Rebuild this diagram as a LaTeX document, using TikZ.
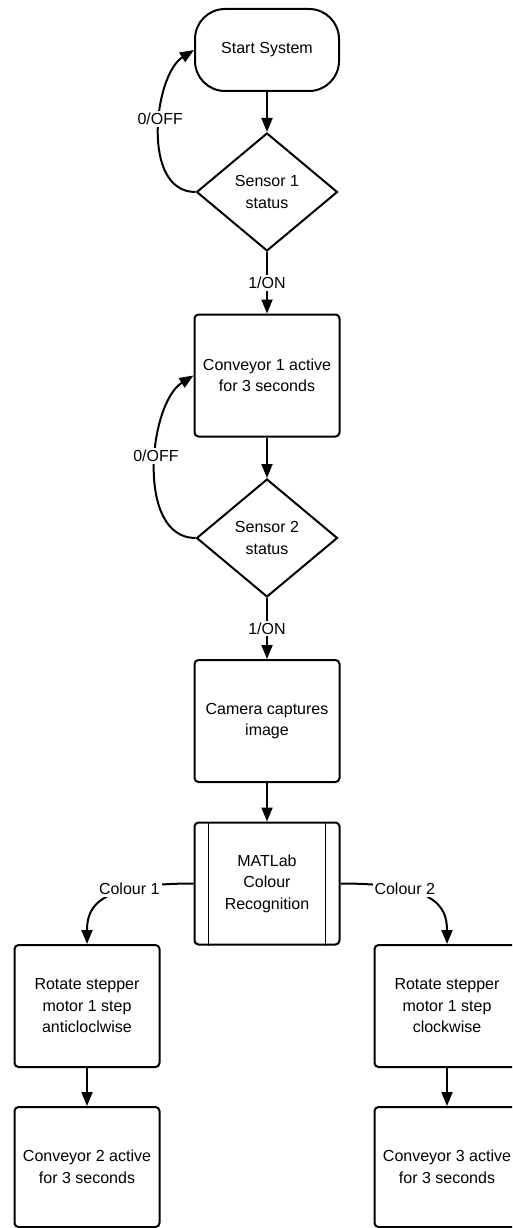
\documentclass[tikz,border=0pt]{standalone}
\usepackage{fontspec}
\setmainfont{Liberation Sans}
\usetikzlibrary{shapes.geometric,arrows.meta,calc}
\begin{document}
\begin{tikzpicture}[x=1pt,y=-1pt,
  every node/.style={font={\fontsize{16}{21.5}\selectfont}},
  terminal/.style={draw,line width=2pt,rounded corners=30pt,minimum width=144pt,minimum height=82pt,inner sep=0pt},
  proc/.style={draw,line width=2pt,rounded corners=4pt,minimum width=145pt,minimum height=122pt,align=center,inner sep=0pt},
  decision/.style={draw,diamond,line width=2pt,minimum width=141pt,minimum height=118pt,align=center,inner sep=0pt},
  flow/.style={line width=2pt,-{Triangle[length=14pt,width=11pt]}},
  lbl/.style={fill=white,inner sep=2pt}
]
\useasboundingbox (0,0) rectangle (512,1228);
\clip (0,0) rectangle (512,1228);

% main column
\node[terminal] (start) at (267,50) {Start System};
\node[decision] (s1) at (267,192) {Sensor 1\\status};
\node[proc] (c1) at (267,375.5) {Conveyor 1 active\\for 3 seconds};
\node[decision] (s2) at (267,538) {Sensor 2\\status};
\node[proc] (cam) at (267,721) {Camera captures\\image};
\node[proc] (mat) at (267,883.5) {MATLab\\Colour\\Recognition};
\draw[line width=1.5pt] ($(mat.north west)+(15,0)$) -- ($(mat.south west)+(15,0)$);
\draw[line width=1.5pt] ($(mat.north east)+(-15,0)$) -- ($(mat.south east)+(-15,0)$);

% two branches
\node[proc] (r1) at (87,1006) {Rotate stepper\\motor 1 step\\anticloclwise};
\node[proc] (r2) at (447,1006) {Rotate stepper\\motor 1 step\\clockwise};
\node[proc,minimum height=120pt] (v2) at (87,1167) {Conveyor 2 active\\for 3 seconds};
\node[proc,minimum height=120pt] (v3) at (447,1167) {Conveyor 3 active\\for 3 seconds};

% connectors
\draw[flow] (start) -- (s1);
\draw[flow] (s1) -- node[lbl]{1/ON} (c1);
\draw[flow] (c1) -- (s2);
\draw[flow] (s2) -- node[lbl]{1/ON} (cam);
\draw[flow] (cam) -- (mat);
\draw[flow] (r1) -- (v2);
\draw[flow] (r2) -- (v3);

\draw[flow] (s1.west) .. controls +(-55,0) and +(-40,25) .. (start.west)
  node[lbl,pos=0.56]{0/OFF};
\draw[flow] (s2.west) .. controls +(-60,0) and +(-45,28) .. (c1.west)
  node[lbl,pos=0.55]{0/OFF};

\draw[flow] (mat.west) .. controls (100,883.5) and (87,905) .. (r1.north)
  node[lbl,pos=0.3]{Colour 1};
\draw[flow] (mat.east) .. controls (434,883.5) and (447,905) .. (r2.north)
  node[lbl,pos=0.3]{Colour 2};
\end{tikzpicture}
\end{document}
